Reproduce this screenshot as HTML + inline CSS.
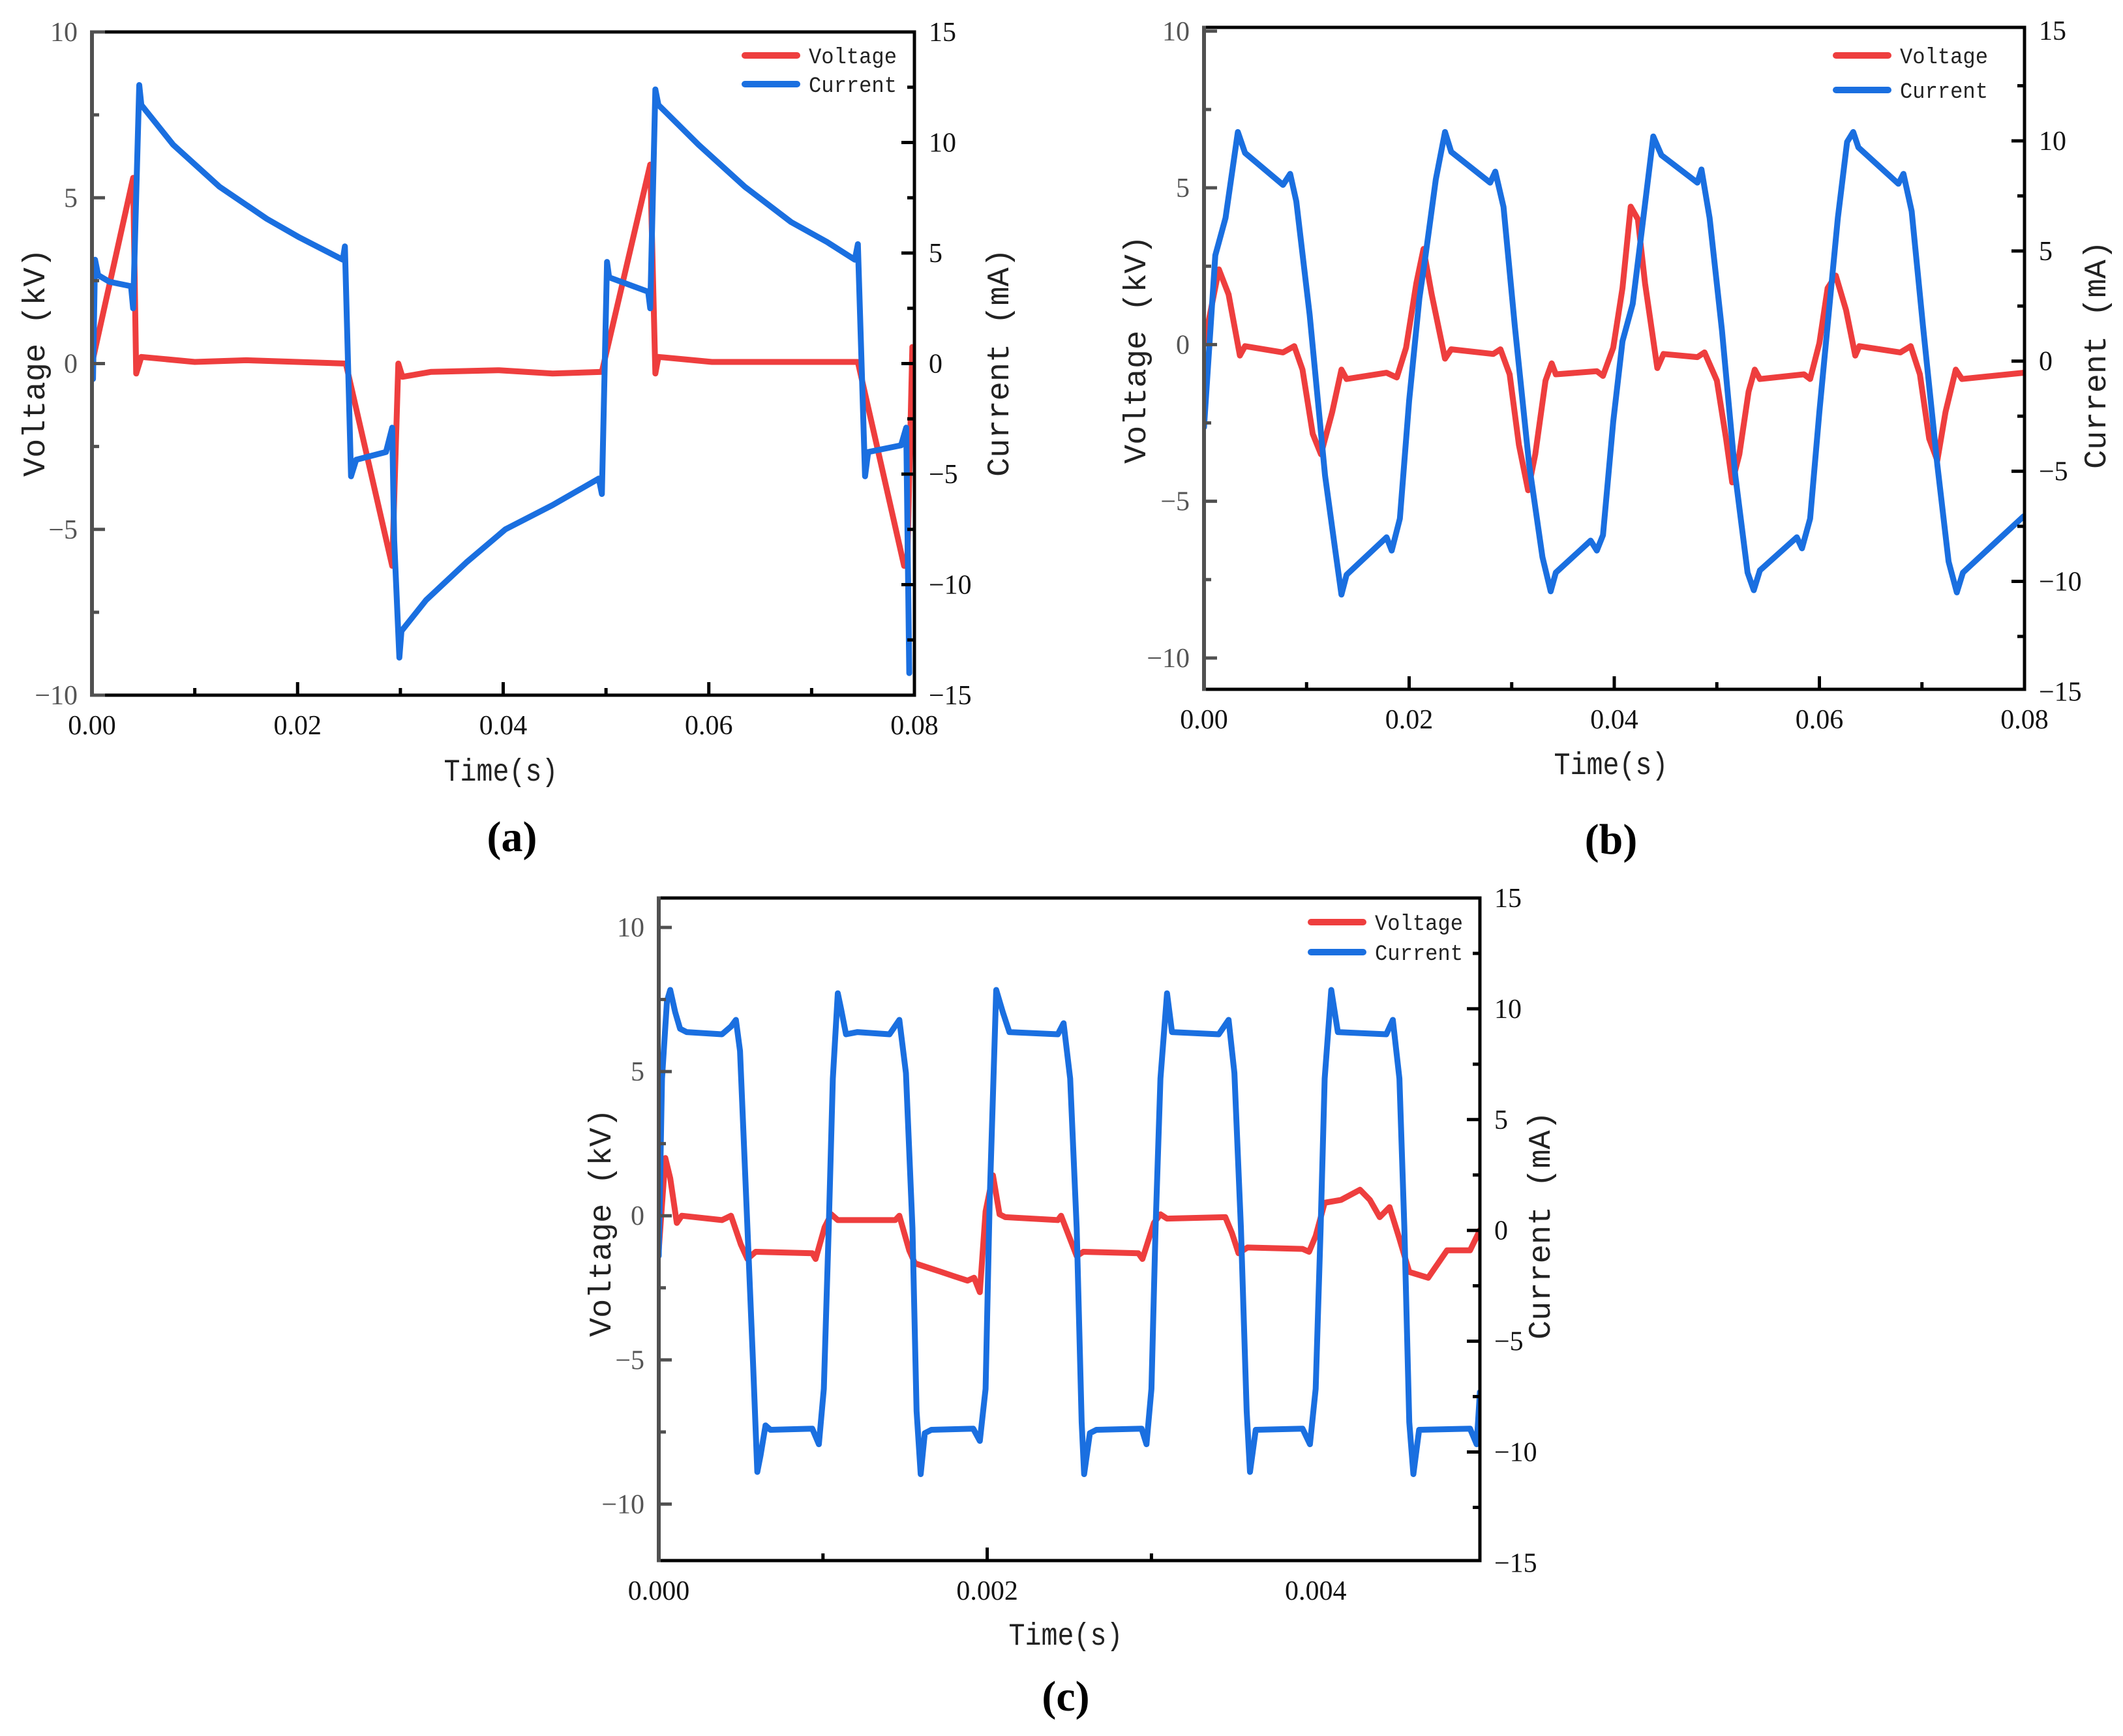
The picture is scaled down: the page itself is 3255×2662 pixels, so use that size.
<!DOCTYPE html>
<html><head><meta charset="utf-8"><style>
html,body{margin:0;padding:0;background:#fff;}
svg{display:block;}
</style></head><body>
<svg id="fig" xmlns="http://www.w3.org/2000/svg" width="3255" height="2662" viewBox="0 0 3255 2662">
<rect x="0" y="0" width="3255" height="2662" fill="#fff"/>
</svg>
<script>
// ---------- Panel (a) data ----------
const aVoltT = [0,0.004,0.0043,0.0048,0.01,0.015,0.02,0.0247,0.0292,0.0298,0.0302,0.033,0.0396,0.0448,0.0496,0.0543,0.0548,0.0551,0.0603,0.0745,0.079,0.0793,0.0798];
const aVoltV = [0,5.6,-0.3,0.2,0.05,0.1,0.05,0,-6.1,0,-0.4,-0.25,-0.2,-0.3,-0.25,6.0,-0.3,0.2,0.05,0.05,-6.1,-6.1,0.5];
const aCurT = [0.0001,0.0003,0.0006,0.0017,0.0038,0.004,0.0046,0.0048,0.0079,0.0124,0.017,0.0202,0.0244,0.0246,0.0252,0.0257,0.0286,0.0292,0.0294,0.0299,0.0301,0.0325,0.0364,0.0402,0.0448,0.0493,0.0496,0.0501,0.0503,0.0541,0.0543,0.0548,0.0551,0.059,0.0635,0.068,0.0715,0.0742,0.0745,0.0752,0.0755,0.0787,0.0792,0.0795];
const aCurV = [-0.7,4.7,4.0,3.7,3.5,2.5,12.6,11.7,9.9,8.0,6.55,5.7,4.7,5.3,-5.1,-4.35,-4.0,-2.9,-8.0,-13.3,-12.1,-10.7,-9.0,-7.5,-6.4,-5.2,-5.9,4.6,3.9,3.25,2.5,12.4,11.7,9.9,8.0,6.4,5.5,4.7,5.4,-5.1,-4.0,-3.7,-2.9,-14.0];

// ---------- Panel (b) data ----------
const bVoltT = [0,0.00145,0.0024,0.0035,0.004,0.0077,0.0088,0.0096,0.0106,0.0114,0.0125,0.0134,0.0139,0.0178,0.0188,0.0197,0.0207,0.0214,0.0222,0.0235,0.0241,0.0282,0.0289,0.0298,0.0307,0.0316,0.0323,0.0333,0.0339,0.0343,0.0383,0.0389,0.0399,0.0408,0.0416,0.0423,0.043,0.0442,0.0448,0.0481,0.0488,0.05,0.0509,0.0515,0.0522,0.0531,0.0537,0.0542,0.0585,0.0591,0.06,0.0608,0.0616,0.0626,0.0635,0.0639,0.0679,0.0689,0.0698,0.0707,0.0715,0.0723,0.0733,0.0739,0.0799];
const bVoltV = [0,2.4,1.6,-0.35,-0.05,-0.25,-0.05,-0.8,-2.85,-3.5,-2.15,-0.8,-1.1,-0.9,-1.05,-0.1,1.95,3.05,1.6,-0.45,-0.15,-0.3,-0.15,-0.95,-3.2,-4.65,-3.5,-1.15,-0.6,-0.95,-0.85,-1.0,-0.1,1.8,4.4,4.0,1.95,-0.75,-0.3,-0.4,-0.25,-1.15,-3.0,-4.4,-3.5,-1.5,-0.8,-1.1,-0.95,-1.1,0.05,1.8,2.2,1.1,-0.35,-0.05,-0.25,-0.05,-0.95,-3.0,-3.7,-2.15,-0.8,-1.1,-0.9];
const bCurT = [0,0.0011,0.0021,0.0033,0.004,0.0077,0.0084,0.009,0.0103,0.0118,0.0128,0.0134,0.0139,0.0178,0.0183,0.0191,0.02,0.021,0.0216,0.0226,0.0235,0.0241,0.0279,0.0284,0.0292,0.0303,0.0317,0.033,0.0338,0.0343,0.0377,0.0383,0.0389,0.0399,0.0408,0.0418,0.0427,0.0438,0.0446,0.0481,0.0485,0.0493,0.0505,0.0518,0.053,0.0536,0.0542,0.0578,0.0583,0.0591,0.06,0.061,0.0618,0.0627,0.0633,0.0638,0.0677,0.0682,0.069,0.0701,0.0715,0.0726,0.0734,0.074,0.0777,0.0799];
const bCurV = [-3.0,4.8,6.5,10.4,9.45,8.0,8.5,7.25,2.1,-5.2,-8.6,-10.6,-9.7,-8.0,-8.6,-7.15,-1.8,2.85,4.8,8.25,10.4,9.5,8.1,8.6,7.0,1.6,-4.7,-8.9,-10.45,-9.6,-8.15,-8.6,-7.9,-2.75,0.9,2.6,6.0,10.2,9.35,8.1,8.7,6.5,1.4,-5.2,-9.6,-10.4,-9.5,-8.0,-8.5,-7.15,-2.3,2.6,6.5,9.95,10.4,9.7,8.05,8.5,6.8,1.6,-4.7,-9.1,-10.5,-9.6,-8.0,-7.05];

// ---------- Panel (c) data (time in ms) ----------
const cVoltT = [0,0.04,0.07,0.11,0.14,0.385,0.44,0.5,0.54,0.59,0.935,0.955,1.01,1.05,1.09,1.44,1.465,1.525,1.56,1.64,1.72,1.8,1.88,1.92,1.955,1.99,2.035,2.075,2.11,2.43,2.45,2.545,2.585,2.92,2.945,3.015,3.055,3.095,3.45,3.49,3.53,3.585,3.92,3.96,4.0,4.055,4.155,4.27,4.33,4.39,4.45,4.51,4.57,4.685,4.8,4.94,5.0];
const cVoltV = [-1.2,2.0,1.3,-0.25,0,-0.15,0,-1.0,-1.5,-1.25,-1.3,-1.5,-0.4,0.05,-0.15,-0.15,0,-1.2,-1.65,-1.8,-1.95,-2.1,-2.25,-2.15,-2.65,0.15,1.4,0.05,-0.05,-0.15,0,-1.4,-1.25,-1.3,-1.5,-0.25,0.05,-0.1,-0.05,-0.6,-1.3,-1.1,-1.15,-1.25,-0.7,0.45,0.55,0.9,0.55,-0.05,0.3,-0.8,-1.95,-2.15,-1.2,-1.2,-0.5];
const cCurT = [0,0.02,0.05,0.07,0.1,0.13,0.17,0.385,0.44,0.47,0.495,0.54,0.575,0.6,0.62,0.65,0.68,0.935,0.975,1.005,1.035,1.06,1.09,1.11,1.14,1.21,1.405,1.465,1.505,1.545,1.57,1.595,1.62,1.66,1.915,1.955,1.99,2.015,2.055,2.095,2.135,2.43,2.465,2.505,2.545,2.575,2.59,2.625,2.665,2.94,2.97,3.0,3.025,3.055,3.095,3.125,3.41,3.47,3.505,3.545,3.58,3.6,3.635,3.92,3.965,4.0,4.03,4.055,4.095,4.135,4.43,4.47,4.51,4.54,4.57,4.595,4.63,4.94,4.98,5.0];
const cCurV = [-1.15,6.85,10.35,10.85,9.85,9.1,8.95,8.85,9.2,9.5,8.1,0.1,-6.15,-10.9,-10.15,-8.8,-9.0,-8.95,-9.65,-7.15,0.1,6.85,10.7,10.0,8.85,8.95,8.85,9.5,7.1,0.1,-8.15,-11.0,-9.15,-9.0,-8.95,-9.5,-7.15,1.35,10.85,9.85,8.95,8.85,9.35,6.85,0.1,-8.65,-11.0,-9.15,-9.0,-8.95,-9.65,-7.15,0.1,6.85,10.7,8.95,8.85,9.5,7.1,0.1,-8.15,-10.9,-9.0,-8.95,-9.65,-7.15,0.1,6.85,10.85,8.95,8.85,9.5,6.85,0.1,-8.65,-11.0,-9.0,-8.95,-9.65,-7.3];

// ---------- Tick arrays ----------
const abXTickVals = [0,0.02,0.04,0.06,0.08];
const abXTickLabels = ['0.00','0.02','0.04','0.06','0.08'];
const cXTickVals = [0,2,4];
const cXTickLabels = ['0.000','0.002','0.004'];
const leftTickVals = [-10,-5,0,5,10];
const leftTickLabels = ['\u221210','\u22125','0','5','10'];
const rightTickVals = [-15,-10,-5,0,5,10,15];
const rightTickLabels = ['\u221215','\u221210','\u22125','0','5','10','15'];

const NS = 'http://www.w3.org/2000/svg';
const fig = document.getElementById('fig');
function mk(tag, attrs, parent){
  const e = document.createElementNS(NS, tag);
  for (const k in attrs) e.setAttribute(k, attrs[k]);
  (parent||fig).appendChild(e);
  return e;
}
const RED = '#ee3e3e', BLUE = '#1a6fe0';

function panel(p){
  const g = mk('g', {});
  
  
  const X = t => p.x0 + (t - p.t0) / (p.t1 - p.t0) * (p.x1 - p.x0);
  const YL = v => p.y0 + (p.l1 - v) / (p.l1 - p.l0) * (p.y1 - p.y0);
  const YR = v => p.y0 + (p.r1 - v) / (p.r1 - p.r0) * (p.y1 - p.y0);

  const cid = 'clip-' + p.id;
  const cp = mk('clipPath', {id: cid}, g);
  mk('rect', {x: p.x0, y: p.y0 - 10, width: p.x1 - p.x0, height: p.y1 - p.y0 + 10}, cp);

  // series
  function series(ts, vs, Y, color, name){
    let d = '';
    for (let i = 0; i < ts.length; i++) d += (i ? 'L' : 'M') + X(ts[i]).toFixed(1) + ' ' + Y(vs[i]).toFixed(1);
    const path = mk('path', {d: d, fill: 'none', stroke: color, 'stroke-width': 9, 'stroke-linejoin': 'round', 'stroke-linecap': 'round', 'clip-path': 'url(#' + cid + ')'}, g);
    
    
  }
  series(p.vt, p.vv, YL, RED, 'voltage-line-' + p.id);
  series(p.ct, p.cv, YR, BLUE, 'current-line-' + p.id);

  // axes frame
  mk('line', {x1: p.x0, y1: p.y0, x2: p.x1, y2: p.y0, stroke: '#000', 'stroke-width': 5}, g);
  mk('line', {x1: p.x1, y1: p.y0 - 2.5, x2: p.x1, y2: p.y1 + 2.5, stroke: '#000', 'stroke-width': 5}, g);
  mk('line', {x1: p.x0, y1: p.y1, x2: p.x1, y2: p.y1, stroke: '#000', 'stroke-width': 5}, g);
  const la = mk('line', {x1: p.x0, y1: p.y0 - 2.5, x2: p.x0, y2: p.y1 + 2.5, stroke: '#505050', 'stroke-width': 6}, g);
  
  

  // left ticks
  for (let i = 0; i < leftTickVals.length; i++){
    const v = leftTickVals[i], y = YL(v);
    mk('line', {x1: p.x0, y1: y, x2: p.x0 + 20, y2: y, stroke: '#505050', 'stroke-width': 5}, g);
    const t = mk('text', {x: p.x0 - 22, y: y + 14, 'text-anchor': 'end', 'font-family': 'Liberation Serif, serif', 'font-size': 42, fill: '#555'}, g);
    t.textContent = leftTickLabels[i];
    
    
    const mv = v + 2.5;
    if (mv <= p.l1 && mv >= p.l0) { const ym = YL(mv); mk('line', {x1: p.x0, y1: ym, x2: p.x0 + 11, y2: ym, stroke: '#505050', 'stroke-width': 5}, g); }
  }
  const mv0 = leftTickVals[0] - 2.5;
  if (mv0 >= p.l0) { const ym = YL(mv0); mk('line', {x1: p.x0, y1: ym, x2: p.x0 + 11, y2: ym, stroke: '#505050', 'stroke-width': 5}, g); }

  // right ticks
  for (let i = 0; i < rightTickVals.length; i++){
    const v = rightTickVals[i], y = YR(v);
    if (v > p.r0 + 0.3 && v < p.r1 - 0.3) mk('line', {x1: p.x1, y1: y, x2: p.x1 - 20, y2: y, stroke: '#000', 'stroke-width': 5}, g);
    const t = mk('text', {x: p.x1 + 22, y: y + 14, 'text-anchor': 'start', 'font-family': 'Liberation Serif, serif', 'font-size': 42, fill: '#111'}, g);
    t.textContent = rightTickLabels[i];
    
    
    if (i < rightTickVals.length - 1) { const ym = YR(v + 2.5); mk('line', {x1: p.x1, y1: ym, x2: p.x1 - 11, y2: ym, stroke: '#000', 'stroke-width': 5}, g); }
  }

  // x ticks
  for (let i = 0; i < p.xv.length; i++){
    const x = X(p.xv[i]);
    if (i > 0 && i < p.xv.length - 1) mk('line', {x1: x, y1: p.y1, x2: x, y2: p.y1 - 20, stroke: '#000', 'stroke-width': 5}, g);
    const t = mk('text', {x: x, y: p.y1 + 60, 'text-anchor': 'middle', 'font-family': 'Liberation Serif, serif', 'font-size': 42, fill: '#111'}, g);
    t.textContent = p.xl[i];
    
    
  }
  for (let m = p.t0 + p.minor; m < p.t1 + 1e-9; m += p.minor * 2){
    const x = X(m);
    if (x < p.x1 - 3) mk('line', {x1: x, y1: p.y1, x2: x, y2: p.y1 - 11, stroke: '#000', 'stroke-width': 5}, g);
  }

  // axis titles
  const yt = mk('text', {x: 0, y: 0, transform: 'translate(' + (p.vl[0] + 16) + ',' + p.vl[1] + ') rotate(-90)', 'text-anchor': 'middle', 'font-family': 'Liberation Mono, monospace', 'font-size': 48, fill: '#222', textLength: 350, lengthAdjust: 'spacingAndGlyphs'}, g);
  yt.textContent = 'Voltage (kV)';
  
  
  const rt = mk('text', {x: 0, y: 0, transform: 'translate(' + (p.cl[0] + 16) + ',' + p.cl[1] + ') rotate(-90)', 'text-anchor': 'middle', 'font-family': 'Liberation Mono, monospace', 'font-size': 48, fill: '#222', textLength: 350, lengthAdjust: 'spacingAndGlyphs'}, g);
  rt.textContent = 'Current (mA)';
  
  
  const xt = mk('text', {x: p.tl[0], y: p.tl[1] + 18, 'text-anchor': 'middle', 'font-family': 'Liberation Mono, monospace', 'font-size': 48, fill: '#222', textLength: 175, lengthAdjust: 'spacingAndGlyphs'}, g);
  xt.textContent = 'Time(s)';
  
  
  const pl = mk('text', {x: p.pl[0], y: p.pl[1] + 22, 'text-anchor': 'middle', 'font-family': 'Liberation Serif, serif', 'font-weight': 'bold', 'font-size': 66, fill: '#000'}, g);
  pl.textContent = '(' + p.id + ')';
  
  

  // legend
  const lg = mk('g', {}, g);
  
  
  const entries = [['Voltage', RED], ['Current', BLUE]];
  for (let i = 0; i < 2; i++){
    const y = p.lg[1] + i * p.lg[2];
    mk('line', {x1: p.lg[0], y1: y, x2: p.lg[0] + 80, y2: y, stroke: entries[i][1], 'stroke-width': 10, 'stroke-linecap': 'round'}, lg);
    const t = mk('text', {x: p.lg[0] + 98, y: y + 12, 'font-family': 'Liberation Mono, monospace', 'font-size': 34, fill: '#222', textLength: 135, lengthAdjust: 'spacingAndGlyphs'}, lg);
    t.textContent = entries[i][0];
    
    
  }
}

panel({id: 'a', x0: 141, x1: 1402, y0: 49, y1: 1066, t0: 0, t1: 0.08, l0: -10, l1: 10, r0: -15, r1: 15,
  vt: aVoltT, vv: aVoltV, ct: aCurT, cv: aCurV, xv: abXTickVals, xl: abXTickLabels, minor: 0.01,
  vl: [52, 556], cl: [1530, 556], tl: [768, 1179], pl: [785, 1283], lg: [1142, 85, 44]});
panel({id: 'b', x0: 1846, x1: 3104, y0: 42, y1: 1057, t0: 0, t1: 0.08, l0: -11, l1: 10.12, r0: -14.9, r1: 15.15,
  vt: bVoltT, vv: bVoltV, ct: bCurT, cv: bCurV, xv: abXTickVals, xl: abXTickLabels, minor: 0.01,
  vl: [1740, 536], cl: [3212, 544], tl: [2470, 1169], pl: [2470, 1287], lg: [2815, 85, 53]});
panel({id: 'c', x0: 1010, x1: 2269, y0: 1377, y1: 2393, t0: 0, t1: 5, l0: -11.96, l1: 11.02, r0: -14.9, r1: 15,
  vt: cVoltT, vv: cVoltV, ct: cCurT, cv: cCurV, xv: cXTickVals, xl: cXTickLabels, minor: 1,
  vl: [920, 1875], cl: [2360, 1879], tl: [1634, 2504], pl: [1634, 2601], lg: [2010, 1414, 46]});
</script>
</body></html>
